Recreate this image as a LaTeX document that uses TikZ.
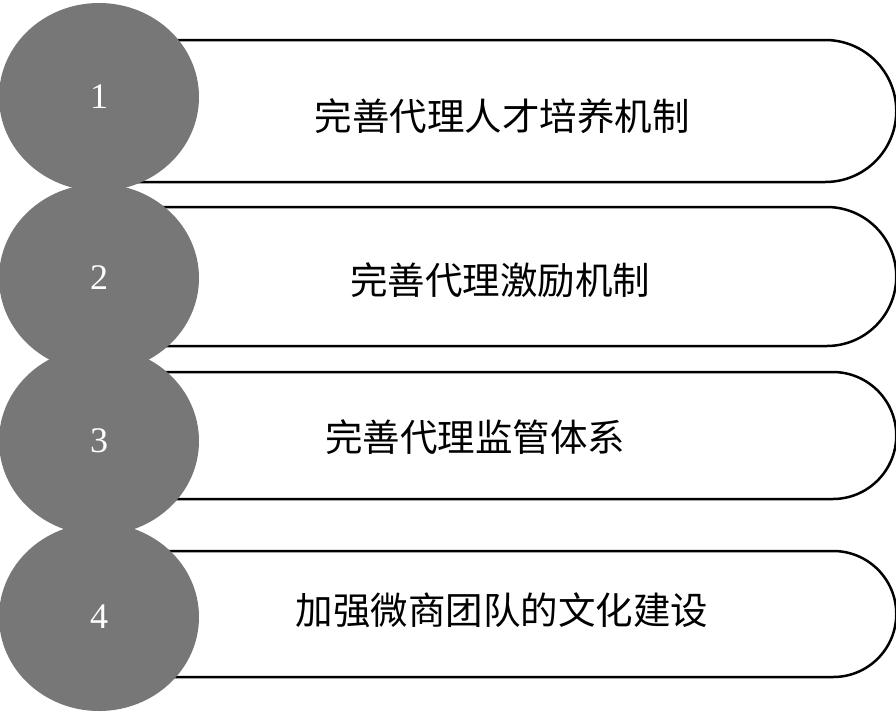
\documentclass[tikz,border=0pt]{standalone}
\usepackage{fontspec}
\setmainfont{Liberation Serif}
\newfontfamily\cjk{Noto Sans CJK SC}
\usetikzlibrary{shapes.geometric, shapes.misc}
\definecolor{discgray}{RGB}{119,119,119}
\tikzset{
    bar/.style={
        rounded rectangle,
        rounded rectangle left arc=none,
        draw=black,
        line width=2.5pt,
        minimum width=775pt,
        inner sep=0pt,
        anchor=west
    },
    disc/.style={
        ellipse,
        fill=discgray,
        minimum width=200pt,
        minimum height=188pt,
        inner sep=0pt,
        text=white,
        font=\fontsize{36}{40}\selectfont
    },
    caption/.style={
        font=\cjk\fontsize{37.5}{40}\selectfont
    }
}

\begin{document}
\begin{tikzpicture}[x=1pt, y=-1pt]
            \useasboundingbox (0,0) rectangle (896,723);

            % Bars
            \node (bar1) [bar, minimum height=142pt] at (120,111) {};
            \node (bar2) [bar, minimum height=139pt] at (120,276.5) {};
            \node (bar3) [bar, minimum height=127pt] at (120,435.5) {};
            \node (bar4) [bar, minimum height=126pt] at (120,614) {};

            % Texts
            \node (txt1) [caption] at (502,116) {完善代理人才培养机制};
            \node (txt2) [caption] at (500,280) {完善代理激励机制};
            \node (txt3) [caption] at (475,437) {完善代理监管体系};
            \node (txt4) [caption] at (502,610) {加强微商团队的文化建设};

            % Numbers
            \node (num1) [disc] at (99,97) {1};
            \node (num2) [disc] at (99,278) {2};
            \node (num3) [disc] at (99,441) {3};
            \node (num4) [disc] at (99,617) {4};
\end{tikzpicture}
\end{document}
